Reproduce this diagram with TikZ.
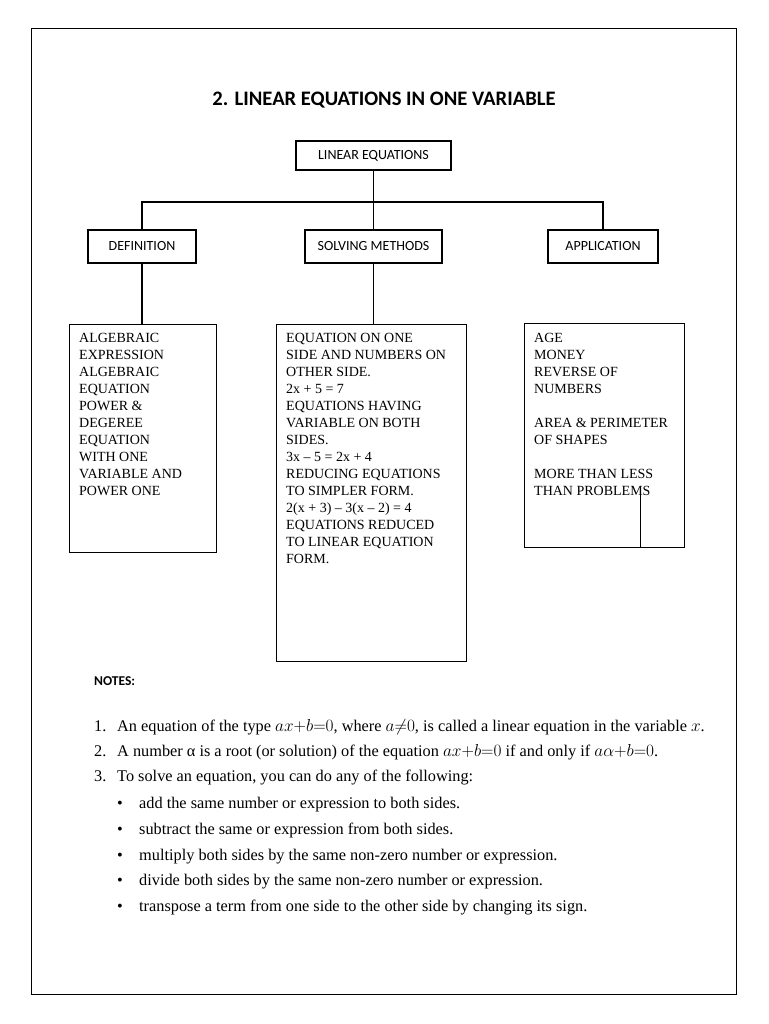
\documentclass[tikz,border=0pt]{standalone}
\usepackage{fontspec}
\setmainfont{Liberation Serif}
\newfontfamily\calib{Carlito}
\usetikzlibrary{positioning}
\tikzset{
  headbox/.style={draw, line width=1.3pt, minimum width=#1, minimum height=33pt,
                  inner sep=0pt, font=\calib\fontsize{14}{16}\selectfont},
  listbox/.style={draw, line width=1.3pt, inner sep=0pt, anchor=north west},
  listtxt/.style={inner sep=0pt, anchor=north west, align=left,
                  font=\fontsize{14}{17}\selectfont},
  link/.style={line width=1.1pt},
  note/.style={inner sep=0pt, anchor=base west, font=\fontsize{16.3}{19}\selectfont},
}

\begin{document}
\begin{tikzpicture}[x=1pt, y=-1pt]
  \useasboundingbox (0,0) rectangle (768,1024);
  \draw[line width=1pt] (31,29) rectangle (736,994);

  % ─── Title ─────────────────────────────────────────────
  \node[font=\calib\bfseries\fontsize{20.6}{24}\selectfont] (title) at (384,100)
    {2. LINEAR EQUATIONS IN ONE VARIABLE};

  % ─── Top level and branches ────────────────────────────
  \node[headbox=155pt, minimum height=29pt] (top) at (373.5,155.5) {LINEAR EQUATIONS};
  \node[headbox=108pt] (defn) at (142,246.5) {DEFINITION};
  \node[headbox=137pt] (solv) at (373.5,246.5) {SOLVING METHODS};
  \node[headbox=110pt] (appl) at (603,246.5) {APPLICATION};

  \coordinate (hub) at (373.5,202);
  \draw[link] (top.south) -- (hub) -- (solv.north);
  \draw[link] (defn.north) |- (hub) -| (appl.north);

  % ─── Detail boxes ──────────────────────────────────────
  \node[listbox, minimum width=147pt, minimum height=228pt] (defbox) at (69,324) {};
  \node[listbox, minimum width=190pt, minimum height=337pt] (solvbox) at (276,324) {};
  \node[listbox, minimum width=160pt, minimum height=224pt] (appbox) at (524,323) {};

  \draw[link] (defn.south) -- (defn.south |- defbox.north);
  \draw[link] (solv.south) -- (solv.south |- solvbox.north);

  \node[listtxt, below right=9.5pt and 10pt of defbox.north west] (deftxt)
    {ALGEBRAIC\\EXPRESSION\\ALGEBRAIC\\EQUATION\\POWER \&\\DEGEREE\\EQUATION\\
     WITH ONE\\VARIABLE AND\\POWER ONE};
  \node[listtxt, below right=9.5pt and 10pt of solvbox.north west] (solvtxt)
    {EQUATION ON ONE\\SIDE AND NUMBERS ON\\OTHER SIDE.\\2x + 5 = 7\\
     EQUATIONS HAVING\\VARIABLE ON BOTH\\SIDES.\\3x – 5 = 2x + 4\\
     REDUCING EQUATIONS\\TO SIMPLER FORM.\\2(x + 3) – 3(x – 2) = 4\\
     EQUATIONS REDUCED\\TO LINEAR EQUATION\\FORM.};
  \node[listtxt, below right=10.5pt and 10pt of appbox.north west] (apptxt)
    {AGE\\MONEY\\REVERSE OF\\NUMBERS\\[17pt]AREA \& PERIMETER\\OF SHAPES\\[17pt]
     MORE THAN LESS\\THAN PROBLEMS};

  \coordinate (tick) at (640,492);
  \draw[line width=1pt] (tick) -- (tick |- appbox.south);

  % ─── Notes ─────────────────────────────────────────────
  \node[font=\calib\bfseries\fontsize{13.5}{16}\selectfont, anchor=west, inner sep=0pt]
    (notes) at (94,681) {NOTES:};

  \node[note] (n1) at (94,731) {\makebox[23pt][l]{1.}An equation of the type
    $ax{+}b{=}0$, where $a{\neq}0$, is called a linear equation in the variable $x$.};
  \node[note] (n2) at (94,756) {\makebox[23pt][l]{2.}A number α is a root
    (or solution) of the equation $ax{+}b{=}0$ if and only if $a\alpha{+}b{=}0$.};
  \node[note] (n3) at (94,781) {\makebox[23pt][l]{3.}To solve an equation,
    you can do any of the following:};

  \node[note] (b1) at (117,808) {\makebox[22pt][l]{\textbullet}add the same
    number or expression to both sides.};
  \node[note] (b2) at (117,834) {\makebox[22pt][l]{\textbullet}subtract the same
    or expression from both sides.};
  \node[note] (b3) at (117,860) {\makebox[22pt][l]{\textbullet}multiply both sides
    by the same non-zero number or expression.};
  \node[note] (b4) at (117,885) {\makebox[22pt][l]{\textbullet}divide both sides
    by the same non-zero number or expression.};
  \node[note] (b5) at (117,911) {\makebox[22pt][l]{\textbullet}transpose a term
    from one side to the other side by changing its sign.};

\end{tikzpicture}
\end{document}
